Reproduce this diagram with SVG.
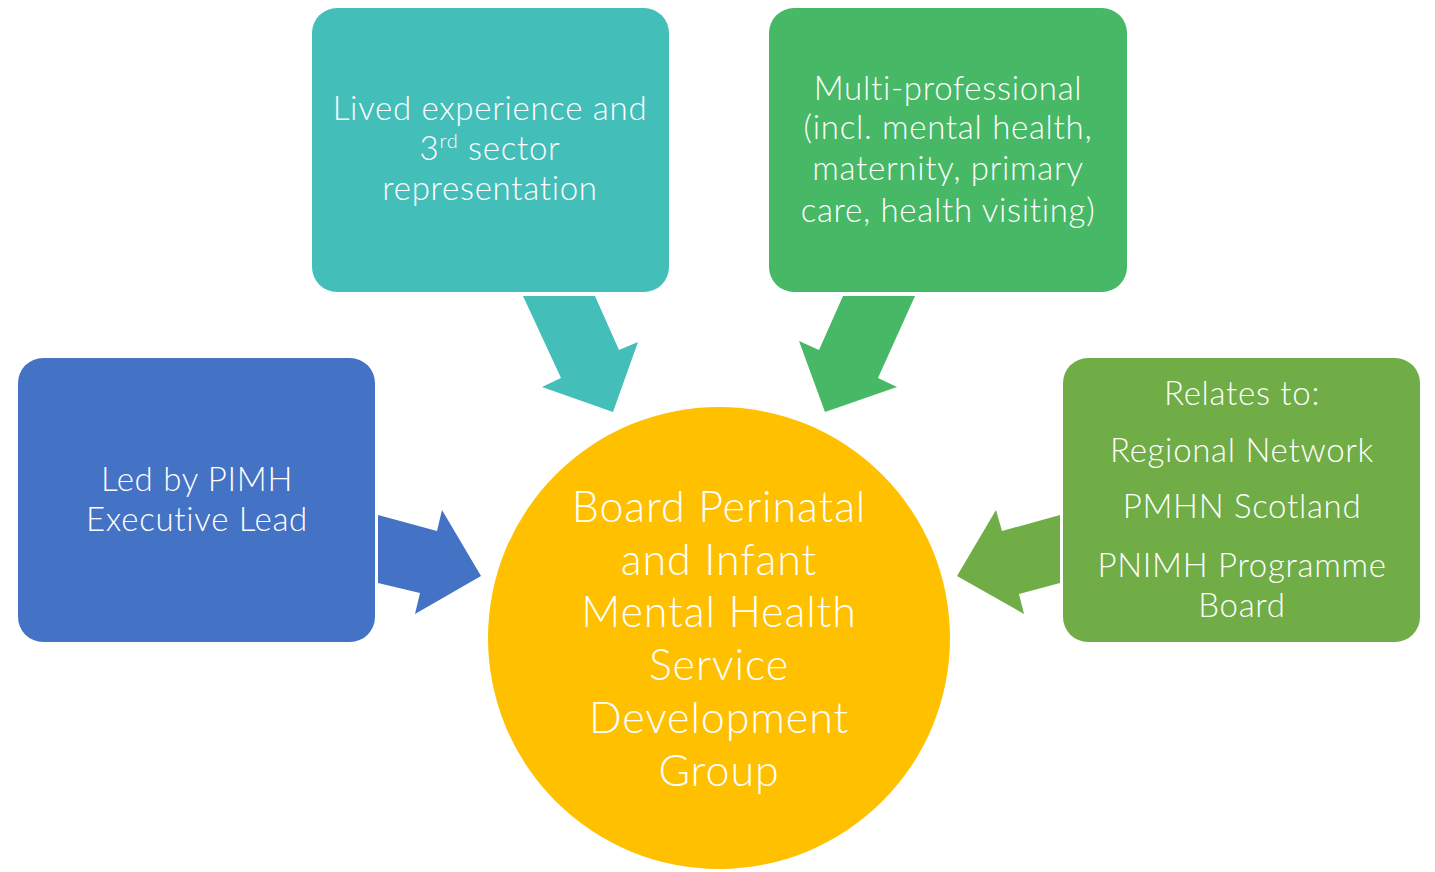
<svg xmlns="http://www.w3.org/2000/svg" width="1435" height="872" viewBox="0 0 1435 872">
<style>
text{font-family:Lato,"Open Sans",sans-serif;font-weight:300;fill:#fff;text-anchor:middle;font-variant-ligatures:none}
.b{font-size:33px;letter-spacing:0.7px}
.c{font-size:43px;letter-spacing:0.9px}
</style>
<rect width="1435" height="872" fill="#fff"/>
<g id="connectors">
<polygon fill="#44BEB9" points="523,296 595,296 619,350 638,342 613,412 542,387 561,378"/>
<polygon fill="#47B866" points="843,296 915,296 878,378 897,387 825,412 799,341 819,350"/>
<polygon fill="#4472C4" points="378,515 437,531 442,510 481,576 415,614 420,593 378,583"/>
<polygon fill="#70AD47" points="1060,515 1002,531 996,510 957,576 1024,614 1019,594 1060,583"/>
</g>
<g id="lived">
<rect x="312" y="8" width="357" height="284" rx="25" fill="#44BEB9"/>
<text class="b" x="490" y="120">Lived experience and</text>
<text class="b" x="490" y="160">3<tspan font-size="20" dy="-12">rd</tspan><tspan dy="12"> sector</tspan></text>
<text class="b" x="490" y="200">representation</text>
</g>
<g id="multi">
<rect x="769" y="8" width="358" height="284" rx="25" fill="#47B866"/>
<text class="b" x="948" y="100">Multi-professional</text>
<text class="b" x="948" y="139">(incl. mental health,</text>
<text class="b" x="948" y="180">maternity, primary</text>
<text class="b" x="948" y="222">care, health visiting)</text>
</g>
<g id="led">
<rect x="18" y="358" width="357" height="284" rx="25" fill="#4472C4"/>
<text class="b" x="197" y="491">Led by PIMH</text>
<text class="b" x="197" y="531">Executive Lead</text>
</g>
<g id="relates">
<rect x="1063" y="358" width="357" height="284" rx="25" fill="#70AD47"/>
<text class="b" x="1242" y="405">Relates to:</text>
<text class="b" x="1242" y="462">Regional Network</text>
<text class="b" x="1242" y="518">PMHN Scotland</text>
<text class="b" x="1242" y="577">PNIMH Programme</text>
<text class="b" x="1242" y="617">Board</text>
</g>
<g id="board">
<circle cx="719" cy="638" r="231" fill="#FFC000"/>
<text class="c" x="719" y="522">Board Perinatal</text>
<text class="c" x="719" y="575">and Infant</text>
<text class="c" x="719" y="627">Mental Health</text>
<text class="c" x="719" y="680">Service</text>
<text class="c" x="719" y="733">Development</text>
<text class="c" x="719" y="786">Group</text>
</g>
</svg>
